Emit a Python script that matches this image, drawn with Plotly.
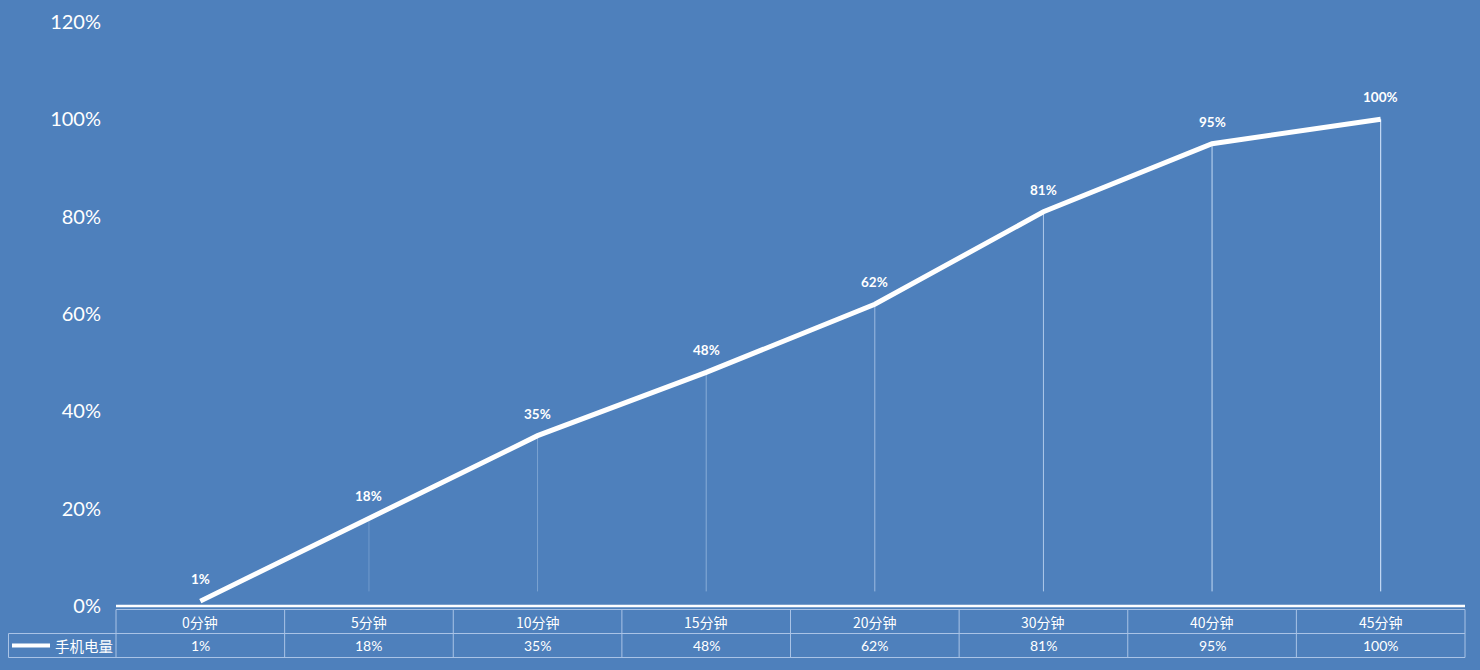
import plotly.graph_objects as go

categories = ["0分钟", "5分钟", "10分钟", "15分钟", "20分钟", "30分钟", "40分钟", "45分钟"]
values = [0.01, 0.18, 0.35, 0.48, 0.62, 0.81, 0.95, 1.00]
value_labels = ["1%", "18%", "35%", "48%", "62%", "81%", "95%", "100%"]
series_name = "手机电量"
y_ticks = [0, 0.2, 0.4, 0.6, 0.8, 1.0, 1.2]
y_tick_labels = ["0%", "20%", "40%", "60%", "80%", "100%", "120%"]

W, H = 1480, 670
BG = "#4E80BC"
BORDER = "#A9C3E6"
FONT = "Lato, 'Noto Sans CJK SC', sans-serif"
CJK = "'Noto Sans CJK SC', sans-serif"

x0p, x1p = 116, 1465
y0p, y1p = 606, 22

def px(x):
    return x / W

def py(y):
    return 1 - y / H

n = len(categories)
fig = go.Figure()
fig.add_trace(go.Scatter(
    x=list(range(n)), y=values, mode="lines",
    line=dict(color="white", width=5), name=series_name, showlegend=False,
    hoverinfo="skip",
))

shapes = []
annotations = []

# drop lines (fading toward the axis, stronger toward the right)
for i, v in enumerate(values):
    if i == 0:
        continue
    op = 0.2 + 0.8 * (i / (n - 1)) ** 1.5
    shapes.append(dict(type="line", xref="x", yref="y", x0=i, x1=i, y0=0.03, y1=v,
                       line=dict(color=f"rgba(220,235,255,{op:.2f})", width=1), layer="below"))

# data labels
for i, (v, lab) in enumerate(zip(values, value_labels)):
    annotations.append(dict(x=i, y=v, xref="x", yref="y", text=f"<b>{lab}</b>", showarrow=False,
                            yshift=22, font=dict(color="white", size=13.5, family=FONT)))

# x axis line
shapes.append(dict(type="line", xref="paper", yref="paper", x0=px(x0p), x1=px(x1p),
                   y0=py(606), y1=py(606), line=dict(color="white", width=2.5)))

# table
t_top, t_mid, t_bot = 609.5, 633.5, 657.5
left = 8.5
band = (x1p - x0p) / n
shapes.append(dict(type="line", xref="paper", yref="paper", x0=px(x0p), x1=px(x1p),
                   y0=py(t_top), y1=py(t_top), line=dict(color=BORDER, width=1)))
for yy in (t_mid, t_bot):
    shapes.append(dict(type="line", xref="paper", yref="paper", x0=px(left), x1=px(x1p),
                       y0=py(yy), y1=py(yy), line=dict(color=BORDER, width=1)))
for k in range(n + 1):
    xx = x0p + k * band
    shapes.append(dict(type="line", xref="paper", yref="paper", x0=px(xx), x1=px(xx),
                       y0=py(t_top), y1=py(t_bot), line=dict(color=BORDER, width=1)))
shapes.append(dict(type="line", xref="paper", yref="paper", x0=px(left), x1=px(left),
                   y0=py(t_mid), y1=py(t_bot), line=dict(color=BORDER, width=1)))

for i, (c, lab) in enumerate(zip(categories, value_labels)):
    annotations.append(dict(x=i, y=py((t_top + t_mid) / 2), xref="x", yref="paper", text=c,
                            showarrow=False, yanchor="middle",
                            font=dict(color="white", size=14, family=CJK)))
    annotations.append(dict(x=i, y=py((t_mid + t_bot) / 2), xref="x", yref="paper", text=lab,
                            showarrow=False, yanchor="middle",
                            font=dict(color="white", size=14, family=FONT)))

# legend key in table
shapes.append(dict(type="line", xref="paper", yref="paper", x0=px(12), x1=px(50),
                   y0=py(645.5), y1=py(645.5), line=dict(color="white", width=4)))
annotations.append(dict(x=px(53), y=py(645.5), xref="paper", yref="paper", text=series_name,
                        showarrow=False, xanchor="left", yanchor="middle",
                        font=dict(color="white", size=14.5, family=CJK)))

fig.update_layout(
    width=W, height=H,
    margin=dict(l=0, r=0, t=0, b=0, pad=0),
    paper_bgcolor=BG, plot_bgcolor=BG,
    showlegend=False,
    xaxis=dict(domain=[px(x0p), px(x1p)], range=[-0.5, n - 0.5], showgrid=False,
               zeroline=False, showticklabels=False, showline=False, ticks="",
               tickmode="array", tickvals=list(range(n)), automargin=False),
    yaxis=dict(domain=[py(y0p), py(y1p)], range=[0, 1.2], showgrid=False, zeroline=False,
               tickmode="array", tickvals=y_ticks, ticktext=y_tick_labels,
               tickfont=dict(color="white", size=20, family=FONT), ticks="",
               ticklabelstandoff=14, showline=False, automargin=False),
    shapes=shapes,
    annotations=annotations,
)

fig.write_html(
    "out.html",
    config={"responsive": False, "displayModeBar": False},
    post_script="document.body.style.margin='0';document.body.style.overflow='hidden';",
)
